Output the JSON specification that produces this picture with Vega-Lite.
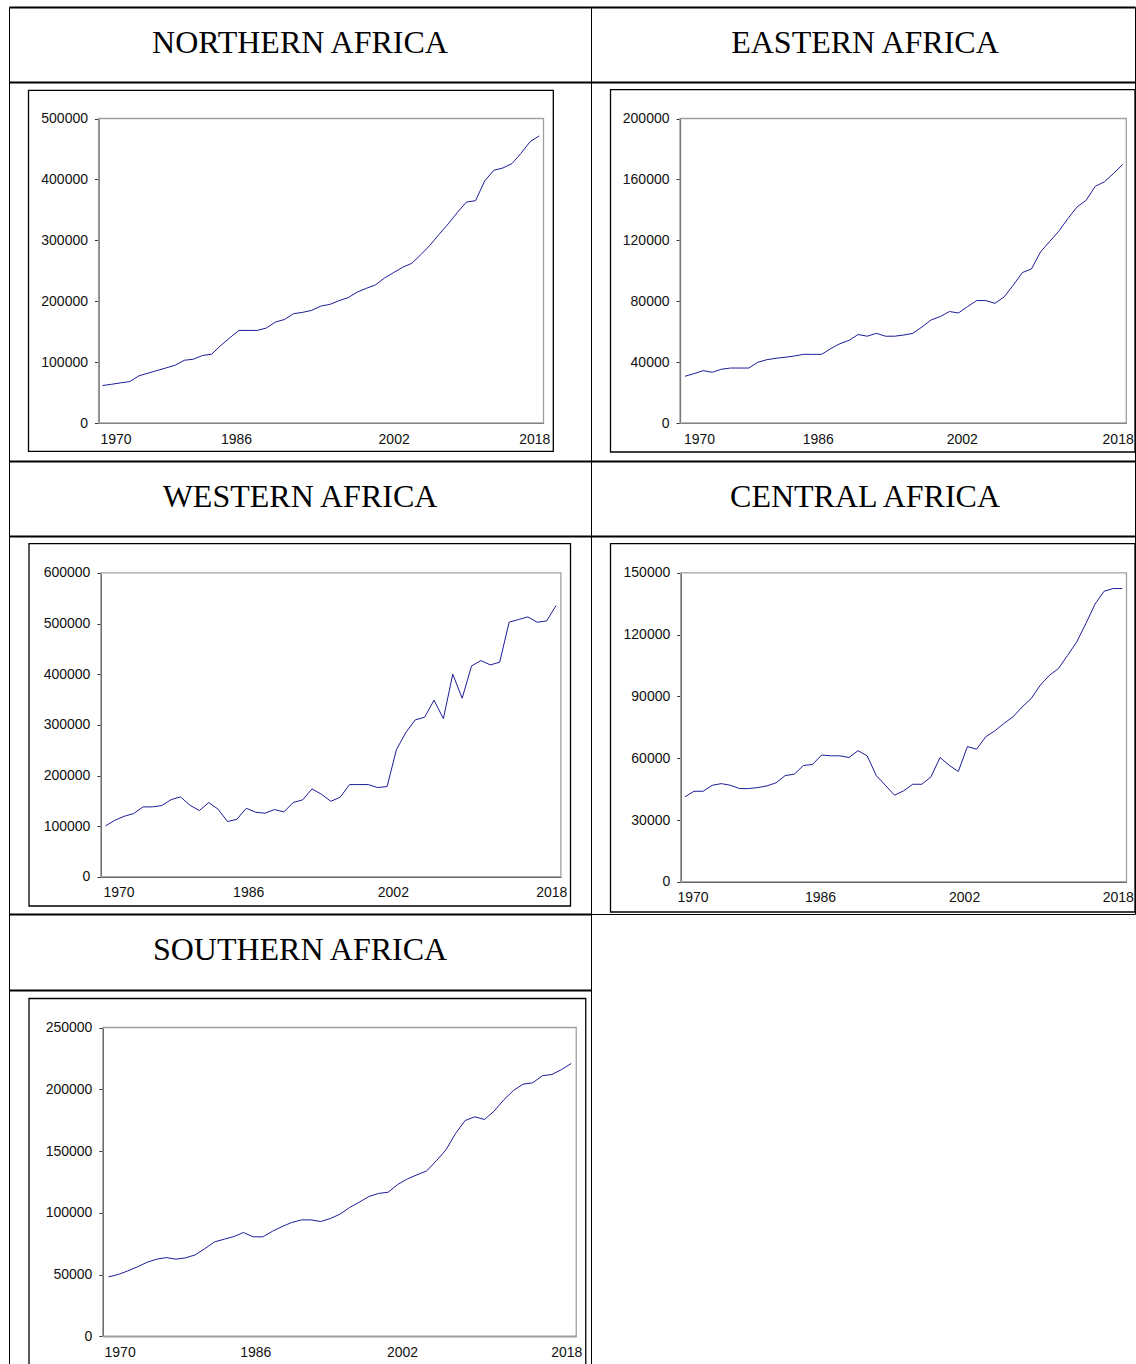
{
  "$schema": "https://vega.github.io/schema/vega-lite/v6.json",
  "background": "white",
  "padding": {"left": 8, "top": 6, "right": 0, "bottom": 0},
  "columns": 2,
  "spacing": 0,
  "bounds": "flush",
  "align": "each",
  "config": {
    "view": {"stroke": "#000", "strokeWidth": 1},
    "axis": {"grid": false, "labelFont": "Liberation Sans", "labelFontSize": 14, "labelColor": "#111", "domainColor": "#333", "domainWidth": 1.2, "tickColor": "#333", "tickWidth": 1, "zindex": 1},
    "text": {"font": "Liberation Serif", "fontSize": 32, "color": "#000"}
  },
  "datasets": {
    "northern": [
      {"year":1970,"value":61500},{"year":1971,"value":63600},{"year":1972,"value":65900},{"year":1973,"value":68000},{"year":1974,"value":77400},{"year":1975,"value":81800},{"year":1976,"value":86200},{"year":1977,"value":90500},{"year":1978,"value":95000},{"year":1979,"value":103000},{"year":1980,"value":104800},{"year":1981,"value":110900},{"year":1982,"value":113000},{"year":1983,"value":127300},{"year":1984,"value":140000},{"year":1985,"value":152000},{"year":1986,"value":152000},{"year":1987,"value":152000},{"year":1988,"value":155900},{"year":1989,"value":165700},{"year":1990,"value":170000},{"year":1991,"value":179500},{"year":1992,"value":181700},{"year":1993,"value":185000},{"year":1994,"value":192000},{"year":1995,"value":194800},{"year":1996,"value":200900},{"year":1997,"value":205800},{"year":1998,"value":215000},{"year":1999,"value":221200},{"year":2000,"value":226700},{"year":2001,"value":238200},{"year":2002,"value":247000},{"year":2003,"value":255700},{"year":2004,"value":262300},{"year":2005,"value":276600},{"year":2006,"value":292000},{"year":2007,"value":310000},{"year":2008,"value":327000},{"year":2009,"value":345700},{"year":2010,"value":362800},{"year":2011,"value":365000},{"year":2012,"value":397300},{"year":2013,"value":414900},{"year":2014,"value":418700},{"year":2015,"value":425900},{"year":2016,"value":442900},{"year":2017,"value":462000},{"year":2018,"value":471400}
    ],
    "eastern": [
      {"year":1970,"value":30700},{"year":1971,"value":32400},{"year":1972,"value":34400},{"year":1973,"value":33300},{"year":1974,"value":35300},{"year":1975,"value":36100},{"year":1976,"value":36100},{"year":1977,"value":36100},{"year":1978,"value":39900},{"year":1979,"value":41600},{"year":1980,"value":42500},{"year":1981,"value":43200},{"year":1982,"value":44000},{"year":1983,"value":45100},{"year":1984,"value":45100},{"year":1985,"value":45100},{"year":1986,"value":48900},{"year":1987,"value":52100},{"year":1988,"value":54300},{"year":1989,"value":58100},{"year":1990,"value":57000},{"year":1991,"value":58900},{"year":1992,"value":57000},{"year":1993,"value":57000},{"year":1994,"value":57800},{"year":1995,"value":58900},{"year":1996,"value":63100},{"year":1997,"value":67700},{"year":1998,"value":69900},{"year":1999,"value":73200},{"year":2000,"value":72300},{"year":2001,"value":76500},{"year":2002,"value":80400},{"year":2003,"value":80400},{"year":2004,"value":78600},{"year":2005,"value":82800},{"year":2006,"value":90500},{"year":2007,"value":98800},{"year":2008,"value":101200},{"year":2009,"value":112400},{"year":2010,"value":119200},{"year":2011,"value":126000},{"year":2012,"value":134300},{"year":2013,"value":141900},{"year":2014,"value":146300},{"year":2015,"value":155500},{"year":2016,"value":158400},{"year":2017,"value":163900},{"year":2018,"value":169800}
    ],
    "western": [
      {"year":1970,"value":100700},{"year":1971,"value":111800},{"year":1972,"value":119700},{"year":1973,"value":125000},{"year":1974,"value":138200},{"year":1975,"value":138200},{"year":1976,"value":140800},{"year":1977,"value":152600},{"year":1978,"value":157900},{"year":1979,"value":141400},{"year":1980,"value":130900},{"year":1981,"value":146700},{"year":1982,"value":133600},{"year":1983,"value":109200},{"year":1984,"value":113800},{"year":1985,"value":135500},{"year":1986,"value":127600},{"year":1987,"value":125700},{"year":1988,"value":132900},{"year":1989,"value":128300},{"year":1990,"value":146700},{"year":1991,"value":152000},{"year":1992,"value":173700},{"year":1993,"value":163200},{"year":1994,"value":149300},{"year":1995,"value":157200},{"year":1996,"value":182200},{"year":1997,"value":182200},{"year":1998,"value":182200},{"year":1999,"value":176300},{"year":2000,"value":178300},{"year":2001,"value":251300},{"year":2002,"value":284900},{"year":2003,"value":309900},{"year":2004,"value":315100},{"year":2005,"value":348700},{"year":2006,"value":312500},{"year":2007,"value":400000},{"year":2008,"value":352600},{"year":2009,"value":416400},{"year":2010,"value":427000},{"year":2011,"value":418400},{"year":2012,"value":423700},{"year":2013,"value":502600},{"year":2014,"value":507900},{"year":2015,"value":513200},{"year":2016,"value":502600},{"year":2017,"value":505300},{"year":2018,"value":535500}
    ],
    "central": [
      {"year":1970,"value":41300},{"year":1971,"value":44000},{"year":1972,"value":44000},{"year":1973,"value":46900},{"year":1974,"value":47700},{"year":1975,"value":46900},{"year":1976,"value":45300},{"year":1977,"value":45300},{"year":1978,"value":45800},{"year":1979,"value":46600},{"year":1980,"value":48100},{"year":1981,"value":51600},{"year":1982,"value":52300},{"year":1983,"value":56500},{"year":1984,"value":57000},{"year":1985,"value":61600},{"year":1986,"value":61200},{"year":1987,"value":61200},{"year":1988,"value":60400},{"year":1989,"value":63700},{"year":1990,"value":61200},{"year":1991,"value":51600},{"year":1992,"value":46900},{"year":1993,"value":42100},{"year":1994,"value":44200},{"year":1995,"value":47400},{"year":1996,"value":47400},{"year":1997,"value":51000},{"year":1998,"value":60400},{"year":1999,"value":56600},{"year":2000,"value":53600},{"year":2001,"value":65700},{"year":2002,"value":64400},{"year":2003,"value":70400},{"year":2004,"value":73300},{"year":2005,"value":76900},{"year":2006,"value":80100},{"year":2007,"value":84900},{"year":2008,"value":89000},{"year":2009,"value":95500},{"year":2010,"value":100300},{"year":2011,"value":103600},{"year":2012,"value":110000},{"year":2013,"value":116500},{"year":2014,"value":125400},{"year":2015,"value":134800},{"year":2016,"value":141100},{"year":2017,"value":142400},{"year":2018,"value":142400}
    ],
    "southern": [
      {"year":1970,"value":48100},{"year":1971,"value":50000},{"year":1972,"value":52900},{"year":1973,"value":56200},{"year":1974,"value":59900},{"year":1975,"value":62400},{"year":1976,"value":63700},{"year":1977,"value":62400},{"year":1978,"value":63500},{"year":1979,"value":65900},{"year":1980,"value":71000},{"year":1981,"value":76400},{"year":1982,"value":78600},{"year":1983,"value":80700},{"year":1984,"value":84000},{"year":1985,"value":80500},{"year":1986,"value":80500},{"year":1987,"value":85000},{"year":1988,"value":88800},{"year":1989,"value":92100},{"year":1990,"value":94200},{"year":1991,"value":94200},{"year":1992,"value":92900},{"year":1993,"value":95300},{"year":1994,"value":98800},{"year":1995,"value":104200},{"year":1996,"value":108500},{"year":1997,"value":113100},{"year":1998,"value":115600},{"year":1999,"value":116600},{"year":2000,"value":122900},{"year":2001,"value":127400},{"year":2002,"value":130700},{"year":2003,"value":133900},{"year":2004,"value":142000},{"year":2005,"value":150900},{"year":2006,"value":164200},{"year":2007,"value":174700},{"year":2008,"value":177700},{"year":2009,"value":175500},{"year":2010,"value":182300},{"year":2011,"value":191400},{"year":2012,"value":199000},{"year":2013,"value":204100},{"year":2014,"value":205200},{"year":2015,"value":210900},{"year":2016,"value":212000},{"year":2017,"value":216000},{"year":2018,"value":220900}
    ]
  },
  "concat": [
    {
      "width": 582, "height": 75,
      "data": {"values": [{"t": "NORTHERN AFRICA"}]},
      "resolve": {"scale": {"x": "independent"}, "axis": {"x": "independent"}},
      "layer": [
        {"mark": {"type": "text", "dy": -2}, "encoding": {"text": {"field": "t", "type": "nominal"}, "x": {"datum": 0.5, "type": "quantitative", "scale": {"domain": [0, 1], "nice": false, "zero": false}, "axis": {"orient": "bottom", "domain": true, "domainColor": "#000", "domainWidth": 2, "labels": false, "ticks": false, "title": null}}, "y": {"datum": 0.5, "type": "quantitative", "scale": {"domain": [0, 1], "nice": false, "zero": false}, "axis": null}}},
        {"mark": {"type": "text", "opacity": 0}, "encoding": {"text": {"field": "t", "type": "nominal"}, "x": {"datum": 0.5, "type": "quantitative", "scale": {"domain": [0, 1], "nice": false, "zero": false}, "axis": {"orient": "top", "domain": true, "domainColor": "#000", "domainWidth": 2, "labels": false, "ticks": false, "title": null}}, "y": {"datum": 0.5, "type": "quantitative", "axis": null}}}
      ]
    },
    {
      "width": 544, "height": 75,
      "data": {"values": [{"t": "EASTERN AFRICA"}]},
      "resolve": {"scale": {"x": "independent"}, "axis": {"x": "independent"}},
      "layer": [
        {"mark": {"type": "text", "dy": -2, "dx": 2}, "encoding": {"text": {"field": "t", "type": "nominal"}, "x": {"datum": 0.5, "type": "quantitative", "scale": {"domain": [0, 1], "nice": false, "zero": false}, "axis": {"orient": "bottom", "domain": true, "domainColor": "#000", "domainWidth": 2, "labels": false, "ticks": false, "title": null}}, "y": {"datum": 0.5, "type": "quantitative", "scale": {"domain": [0, 1], "nice": false, "zero": false}, "axis": null}}},
        {"mark": {"type": "text", "opacity": 0}, "encoding": {"text": {"field": "t", "type": "nominal"}, "x": {"datum": 0.5, "type": "quantitative", "scale": {"domain": [0, 1], "nice": false, "zero": false}, "axis": {"orient": "top", "domain": true, "domainColor": "#000", "domainWidth": 2, "labels": false, "ticks": false, "title": null}}, "y": {"datum": 0.5, "type": "quantitative", "axis": null}}}
      ]
    },
    {
      "width": 582, "height": 379,
      "resolve": {"scale": {"x": "independent", "y": "independent"}, "axis": {"x": "independent", "y": "independent"}},
      "layer": [
        {"data": {"values": [{}]}, "mark": {"type": "rect", "filled": false, "color": "#000", "strokeWidth": 1.3},
         "encoding": {"x": {"datum": 0, "type": "quantitative", "scale": {"domain": [0, 1], "range": [19.5, 544.3], "zero": false, "nice": false}, "axis": null}, "x2": {"datum": 1}, "y": {"datum": 0, "type": "quantitative", "scale": {"domain": [0, 1], "range": [8.3, 369.3], "zero": false, "nice": false}, "axis": null}, "y2": {"datum": 1}}},
        {"data": {"values": [{}]}, "mark": {"type": "rect", "filled": false, "color": "#a0a0a0", "strokeWidth": 1.3},
         "encoding": {"x": {"datum": 1969.56, "type": "quantitative", "scale": {"domain": [1969.56, 2018.47], "range": [89.5, 534.5], "zero": false, "nice": false}, "axis": null}, "x2": {"datum": 2018.47}, "y": {"datum": 0, "type": "quantitative", "scale": {"domain": [0, 500000], "range": [341, 36.5], "zero": false, "nice": false}, "axis": null}, "y2": {"datum": 500000}}},
        {"data": {"name": "northern"}, "mark": {"type": "line", "color": "#1c1c96", "strokeWidth": 1},
         "encoding": {
           "x": {"field": "year", "type": "quantitative", "scale": {"domain": [1969.56, 2018.47], "range": [89.5, 534.5], "zero": false, "nice": false},
                 "axis": {"orient": "bottom", "offset": -38, "title": null, "values": [1970, 1986, 2002, 2018], "format": "d", "ticks": false, "labelPadding": 9, "labelFlush": false,
                          "labelAlign": {"condition": {"test": "datum.value == 1970", "value": "left"}, "value": "center"},
                          "labelOffset": {"condition": [{"test": "datum.value == 1970", "value": -2.5}, {"test": "datum.value == 1986", "value": -12}, {"test": "datum.value == 2002", "value": 0}], "value": -5}}},
           "y": {"field": "value", "type": "quantitative", "scale": {"domain": [0, 500000], "range": [341, 36.5], "zero": false, "nice": false},
                 "axis": {"orient": "left", "offset": -89.5, "title": null, "values": [0, 100000, 200000, 300000, 400000, 500000], "format": "d", "tickSize": 4, "labelPadding": 7}}
         }}
      ]
    },
    {
      "width": 544, "height": 379,
      "resolve": {"scale": {"x": "independent", "y": "independent"}, "axis": {"x": "independent", "y": "independent"}},
      "layer": [
        {"data": {"values": [{}]}, "mark": {"type": "rect", "filled": false, "color": "#000", "strokeWidth": 1.3},
         "encoding": {"x": {"datum": 0, "type": "quantitative", "scale": {"domain": [0, 1], "range": [19.5, 544], "zero": false, "nice": false}, "axis": null}, "x2": {"datum": 1}, "y": {"datum": 0, "type": "quantitative", "scale": {"domain": [0, 1], "range": [7.6, 370], "zero": false, "nice": false}, "axis": null}, "y2": {"datum": 1}}},
        {"data": {"values": [{}]}, "mark": {"type": "rect", "filled": false, "color": "#a0a0a0", "strokeWidth": 1.3},
         "encoding": {"x": {"datum": 1969.46, "type": "quantitative", "scale": {"domain": [1969.46, 2018.4], "range": [89, 535.3], "zero": false, "nice": false}, "axis": null}, "x2": {"datum": 2018.4}, "y": {"datum": 0, "type": "quantitative", "scale": {"domain": [0, 200000], "range": [341, 36.5], "zero": false, "nice": false}, "axis": null}, "y2": {"datum": 200000}}},
        {"data": {"name": "eastern"}, "mark": {"type": "line", "color": "#1c1c96", "strokeWidth": 1},
         "encoding": {
           "x": {"field": "year", "type": "quantitative", "scale": {"domain": [1969.46, 2018.4], "range": [89, 535.3], "zero": false, "nice": false},
                 "axis": {"orient": "bottom", "offset": -38, "title": null, "values": [1970, 1986, 2002, 2018], "format": "d", "ticks": false, "labelPadding": 9, "labelFlush": false,
                          "labelAlign": {"condition": {"test": "datum.value == 1970", "value": "left"}, "value": "center"},
                          "labelOffset": {"condition": [{"test": "datum.value == 1970", "value": -1.5}, {"test": "datum.value == 1986", "value": -13}, {"test": "datum.value == 2002", "value": -15}], "value": -5}}},
           "y": {"field": "value", "type": "quantitative", "scale": {"domain": [0, 200000], "range": [341, 36.5], "zero": false, "nice": false},
                 "axis": {"orient": "left", "offset": -89, "title": null, "values": [0, 40000, 80000, 120000, 160000, 200000], "format": "d", "tickSize": 4, "labelPadding": 7}}
         }}
      ]
    },
    {
      "width": 582, "height": 75,
      "data": {"values": [{"t": "WESTERN AFRICA"}]},
      "resolve": {"scale": {"x": "independent"}, "axis": {"x": "independent"}},
      "layer": [
        {"mark": {"type": "text", "dy": -2}, "encoding": {"text": {"field": "t", "type": "nominal"}, "x": {"datum": 0.5, "type": "quantitative", "scale": {"domain": [0, 1], "nice": false, "zero": false}, "axis": {"orient": "bottom", "domain": true, "domainColor": "#000", "domainWidth": 2, "labels": false, "ticks": false, "title": null}}, "y": {"datum": 0.5, "type": "quantitative", "scale": {"domain": [0, 1], "nice": false, "zero": false}, "axis": null}}},
        {"mark": {"type": "text", "opacity": 0}, "encoding": {"text": {"field": "t", "type": "nominal"}, "x": {"datum": 0.5, "type": "quantitative", "scale": {"domain": [0, 1], "nice": false, "zero": false}, "axis": {"orient": "top", "domain": true, "domainColor": "#000", "domainWidth": 2, "labels": false, "ticks": false, "title": null}}, "y": {"datum": 0.5, "type": "quantitative", "axis": null}}}
      ]
    },
    {
      "width": 544, "height": 75,
      "data": {"values": [{"t": "CENTRAL AFRICA"}]},
      "resolve": {"scale": {"x": "independent"}, "axis": {"x": "independent"}},
      "layer": [
        {"mark": {"type": "text", "dy": -2, "dx": 2}, "encoding": {"text": {"field": "t", "type": "nominal"}, "x": {"datum": 0.5, "type": "quantitative", "scale": {"domain": [0, 1], "nice": false, "zero": false}, "axis": {"orient": "bottom", "domain": true, "domainColor": "#000", "domainWidth": 2, "labels": false, "ticks": false, "title": null}}, "y": {"datum": 0.5, "type": "quantitative", "scale": {"domain": [0, 1], "nice": false, "zero": false}, "axis": null}}},
        {"mark": {"type": "text", "opacity": 0}, "encoding": {"text": {"field": "t", "type": "nominal"}, "x": {"datum": 0.5, "type": "quantitative", "scale": {"domain": [0, 1], "nice": false, "zero": false}, "axis": {"orient": "top", "domain": true, "domainColor": "#000", "domainWidth": 2, "labels": false, "ticks": false, "title": null}}, "y": {"datum": 0.5, "type": "quantitative", "axis": null}}}
      ]
    },
    {
      "width": 582, "height": 378,
      "resolve": {"scale": {"x": "independent", "y": "independent"}, "axis": {"x": "independent", "y": "independent"}},
      "layer": [
        {"data": {"values": [{}]}, "mark": {"type": "rect", "filled": false, "color": "#000", "strokeWidth": 1.3},
         "encoding": {"x": {"datum": 0, "type": "quantitative", "scale": {"domain": [0, 1], "range": [20, 561.5], "zero": false, "nice": false}, "axis": null}, "x2": {"datum": 1}, "y": {"datum": 0, "type": "quantitative", "scale": {"domain": [0, 1], "range": [7.6, 370], "zero": false, "nice": false}, "axis": null}, "y2": {"datum": 1}}},
        {"data": {"values": [{}]}, "mark": {"type": "rect", "filled": false, "color": "#a0a0a0", "strokeWidth": 1.3},
         "encoding": {"x": {"datum": 1969.51, "type": "quantitative", "scale": {"domain": [1969.51, 2018.52], "range": [91.9, 551.9], "zero": false, "nice": false}, "axis": null}, "x2": {"datum": 2018.52}, "y": {"datum": 0, "type": "quantitative", "scale": {"domain": [0, 600000], "range": [340.9, 36.9], "zero": false, "nice": false}, "axis": null}, "y2": {"datum": 600000}}},
        {"data": {"name": "western"}, "mark": {"type": "line", "color": "#1c1c96", "strokeWidth": 1},
         "encoding": {
           "x": {"field": "year", "type": "quantitative", "scale": {"domain": [1969.51, 2018.52], "range": [91.9, 551.9], "zero": false, "nice": false},
                 "axis": {"orient": "bottom", "offset": -37.1, "title": null, "values": [1970, 1986, 2002, 2018], "format": "d", "ticks": false, "labelPadding": 9, "labelFlush": false,
                          "labelAlign": {"condition": {"test": "datum.value == 1970", "value": "left"}, "value": "center"},
                          "labelOffset": {"condition": [{"test": "datum.value == 1970", "value": -2.5}, {"test": "datum.value == 1986", "value": -7.5}, {"test": "datum.value == 2002", "value": -13}], "value": -4.7}}},
           "y": {"field": "value", "type": "quantitative", "scale": {"domain": [0, 600000], "range": [340.9, 36.9], "zero": false, "nice": false},
                 "axis": {"orient": "left", "offset": -91.9, "title": null, "values": [0, 100000, 200000, 300000, 400000, 500000, 600000], "format": "d", "tickSize": 4, "labelPadding": 7}}
         }}
      ]
    },
    {
      "width": 544, "height": 378,
      "resolve": {"scale": {"x": "independent", "y": "independent"}, "axis": {"x": "independent", "y": "independent"}},
      "layer": [
        {"data": {"values": [{}]}, "mark": {"type": "rect", "filled": false, "color": "#000", "strokeWidth": 1.3},
         "encoding": {"x": {"datum": 0, "type": "quantitative", "scale": {"domain": [0, 1], "range": [19.5, 544], "zero": false, "nice": false}, "axis": null}, "x2": {"datum": 1}, "y": {"datum": 0, "type": "quantitative", "scale": {"domain": [0, 1], "range": [7.6, 376], "zero": false, "nice": false}, "axis": null}, "y2": {"datum": 1}}},
        {"data": {"values": [{}]}, "mark": {"type": "rect", "filled": false, "color": "#a0a0a0", "strokeWidth": 1.3},
         "encoding": {"x": {"datum": 1969.54, "type": "quantitative", "scale": {"domain": [1969.54, 2018.46], "range": [89.75, 535.5], "zero": false, "nice": false}, "axis": null}, "x2": {"datum": 2018.46}, "y": {"datum": 0, "type": "quantitative", "scale": {"domain": [0, 150000], "range": [345.9, 36.9], "zero": false, "nice": false}, "axis": null}, "y2": {"datum": 150000}}},
        {"data": {"name": "central"}, "mark": {"type": "line", "color": "#1c1c96", "strokeWidth": 1},
         "encoding": {
           "x": {"field": "year", "type": "quantitative", "scale": {"domain": [1969.54, 2018.46], "range": [89.75, 535.5], "zero": false, "nice": false},
                 "axis": {"orient": "bottom", "offset": -32.1, "title": null, "values": [1970, 1986, 2002, 2018], "format": "d", "ticks": false, "labelPadding": 9, "labelFlush": false,
                          "labelAlign": {"condition": {"test": "datum.value == 1970", "value": "left"}, "value": "center"},
                          "labelOffset": {"condition": [{"test": "datum.value == 1970", "value": -8}, {"test": "datum.value == 1986", "value": -10.7}, {"test": "datum.value == 2002", "value": -12.4}], "value": -4.5}}},
           "y": {"field": "value", "type": "quantitative", "scale": {"domain": [0, 150000], "range": [345.9, 36.9], "zero": false, "nice": false},
                 "axis": {"orient": "left", "offset": -89.75, "title": null, "values": [0, 30000, 60000, 90000, 120000, 150000], "format": "d", "tickSize": 4, "labelPadding": 7}}
         }}
      ]
    },
    {
      "width": 582, "height": 76,
      "data": {"values": [{"t": "SOUTHERN AFRICA"}]},
      "resolve": {"scale": {"x": "independent"}, "axis": {"x": "independent"}},
      "layer": [
        {"mark": {"type": "text", "dy": -2}, "encoding": {"text": {"field": "t", "type": "nominal"}, "x": {"datum": 0.5, "type": "quantitative", "scale": {"domain": [0, 1], "nice": false, "zero": false}, "axis": {"orient": "bottom", "domain": true, "domainColor": "#000", "domainWidth": 2, "labels": false, "ticks": false, "title": null}}, "y": {"datum": 0.5, "type": "quantitative", "scale": {"domain": [0, 1], "nice": false, "zero": false}, "axis": null}}},
        {"mark": {"type": "text", "opacity": 0}, "encoding": {"text": {"field": "t", "type": "nominal"}, "x": {"datum": 0.5, "type": "quantitative", "scale": {"domain": [0, 1], "nice": false, "zero": false}, "axis": {"orient": "top", "domain": true, "domainColor": "#000", "domainWidth": 2, "labels": false, "ticks": false, "title": null}}, "y": {"datum": 0.5, "type": "quantitative", "axis": null}}}
      ]
    },
    {"width": 544, "height": 76, "view": {"stroke": null}, "data": {"values": [{"t": ""}]}, "mark": {"type": "text"}, "encoding": {"text": {"field": "t", "type": "nominal"}}},
    {
      "width": 582, "height": 376,
      "resolve": {"scale": {"x": "independent", "y": "independent"}, "axis": {"x": "independent", "y": "independent"}},
      "layer": [
        {"data": {"values": [{}]}, "mark": {"type": "rect", "filled": false, "color": "#000", "strokeWidth": 1.3},
         "encoding": {"x": {"datum": 0, "type": "quantitative", "scale": {"domain": [0, 1], "range": [20, 576.75], "zero": false, "nice": false}, "axis": null}, "x2": {"datum": 1}, "y": {"datum": 0, "type": "quantitative", "scale": {"domain": [0, 1], "range": [8.5, 376], "zero": false, "nice": false}, "axis": null}, "y2": {"datum": 1}}},
        {"data": {"values": [{}]}, "mark": {"type": "rect", "filled": false, "color": "#a0a0a0", "strokeWidth": 1.3},
         "encoding": {"x": {"datum": 1969.41, "type": "quantitative", "scale": {"domain": [1969.41, 2018.52], "range": [93.85, 567.25], "zero": false, "nice": false}, "axis": null}, "x2": {"datum": 2018.52}, "y": {"datum": 0, "type": "quantitative", "scale": {"domain": [0, 250000], "range": [346.25, 37.5], "zero": false, "nice": false}, "axis": null}, "y2": {"datum": 250000}}},
        {"data": {"name": "southern"}, "mark": {"type": "line", "color": "#1c1c96", "strokeWidth": 1},
         "encoding": {
           "x": {"field": "year", "type": "quantitative", "scale": {"domain": [1969.41, 2018.52], "range": [93.85, 567.25], "zero": false, "nice": false},
                 "axis": {"orient": "bottom", "offset": -29.75, "title": null, "values": [1970, 1986, 2002, 2018], "format": "d", "ticks": false, "labelPadding": 9, "labelFlush": false,
                          "labelAlign": {"condition": {"test": "datum.value == 1970", "value": "left"}, "value": "center"},
                          "labelOffset": {"condition": [{"test": "datum.value == 1970", "value": -4.5}, {"test": "datum.value == 1986", "value": -7.5}, {"test": "datum.value == 2002", "value": -15}], "value": -5}}},
           "y": {"field": "value", "type": "quantitative", "scale": {"domain": [0, 250000], "range": [346.25, 37.5], "zero": false, "nice": false},
                 "axis": {"orient": "left", "offset": -93.85, "title": null, "values": [0, 50000, 100000, 150000, 200000, 250000], "format": "d", "tickSize": 4, "labelPadding": 7}}
         }}
      ]
    }
  ]
}
